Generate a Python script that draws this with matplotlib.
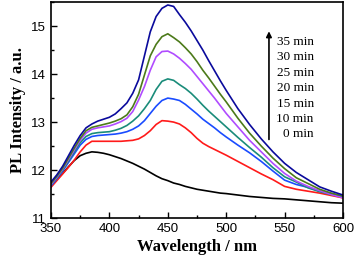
import matplotlib.pyplot as plt

# wavelengths (nm): 5 nm steps up to 500, then 10 nm steps
wl = list(range(350, 501, 5)) + list(range(510, 601, 10))

pl_0 = [11.68, 11.80, 11.93, 12.07, 12.20, 12.30, 12.35, 12.38, 12.37, 12.35, 12.32,
        12.28, 12.24, 12.19, 12.14, 12.08, 12.02, 11.95, 11.88, 11.82, 11.78,
        11.73, 11.70, 11.66, 11.63, 11.60, 11.58, 11.56, 11.54, 11.52, 11.51,
        11.48, 11.45, 11.43, 11.41, 11.40, 11.38, 11.36, 11.34, 11.32, 11.31]
pl_10 = [11.64, 11.78, 11.92, 12.06, 12.21, 12.38, 12.52, 12.60, 12.60, 12.60, 12.60,
         12.60, 12.60, 12.61, 12.62, 12.65, 12.72, 12.82, 12.95, 13.03, 13.02,
         13.00, 12.96, 12.88, 12.78, 12.66, 12.56, 12.49, 12.43, 12.37, 12.31,
         12.18, 12.05, 11.92, 11.80, 11.66, 11.60, 11.56, 11.52, 11.47, 11.42]
pl_15 = [11.67, 11.82, 11.98, 12.16, 12.34, 12.52, 12.64, 12.70, 12.72, 12.73, 12.74,
         12.75, 12.77, 12.80, 12.85, 12.92, 13.03, 13.18, 13.33, 13.45, 13.50,
         13.48, 13.45, 13.37, 13.27, 13.17, 13.06, 12.97, 12.88, 12.78, 12.69,
         12.52, 12.36, 12.18, 11.98, 11.79, 11.70, 11.64, 11.56, 11.50, 11.45]
pl_20 = [11.69, 11.84, 12.00, 12.19, 12.38, 12.57, 12.70, 12.76, 12.78, 12.79, 12.80,
         12.83, 12.87, 12.93, 13.02, 13.13, 13.28, 13.45, 13.68, 13.85, 13.90,
         13.87, 13.78, 13.70, 13.60, 13.48, 13.35, 13.23, 13.12, 13.01, 12.90,
         12.68, 12.47, 12.27, 12.05, 11.86, 11.75, 11.63, 11.55, 11.49, 11.44]
pl_25 = [11.70, 11.85, 12.02, 12.22, 12.42, 12.62, 12.77, 12.85, 12.88, 12.90, 12.92,
         12.96, 13.01, 13.08, 13.22, 13.46, 13.74, 14.08, 14.36, 14.47, 14.48,
         14.42, 14.33, 14.22, 14.10, 13.95, 13.80, 13.65, 13.50, 13.34, 13.18,
         12.90, 12.62, 12.38, 12.14, 11.93, 11.77, 11.66, 11.57, 11.49, 11.42]
pl_30 = [11.72, 11.87, 12.04, 12.25, 12.46, 12.66, 12.82, 12.89, 12.92, 12.95, 12.98,
         13.02, 13.07, 13.15, 13.32, 13.58, 13.98, 14.38, 14.62, 14.78, 14.84,
         14.76, 14.67, 14.55, 14.42, 14.26, 14.08, 13.92, 13.75, 13.58, 13.42,
         13.08, 12.77, 12.50, 12.25, 12.03, 11.84, 11.72, 11.60, 11.52, 11.46]
pl_35 = [11.75, 11.90, 12.08, 12.30, 12.52, 12.72, 12.88, 12.96, 13.02, 13.06, 13.10,
         13.17, 13.28, 13.40, 13.60, 13.88, 14.38, 14.88, 15.20, 15.37, 15.44,
         15.41, 15.24, 15.08, 14.90, 14.70, 14.50, 14.28, 14.07, 13.86, 13.66,
         13.28, 12.95, 12.65, 12.38, 12.14, 11.95, 11.80, 11.65, 11.56, 11.48]

series = [pl_0, pl_10, pl_15, pl_20, pl_25, pl_30, pl_35]
colors = ["#000000", "#ff1a1a", "#1a4cff", "#1a8c7a", "#b04cff", "#4c7a1a", "#0a0a9c"]
labels = ["35 min", "30 min", "25 min", "20 min", "15 min", "10 min", "0 min"]
label_y = [14.67, 14.35, 14.02, 13.71, 13.375, 13.06, 12.75]

fig = plt.figure(figsize=(3.54, 2.64), dpi=100)
ax = fig.add_axes([0.144, 0.174, 0.825, 0.818])

for ys, c in zip(series, colors):
    ax.plot(wl, ys, color=c, lw=1.2)

ax.set_xlim(350, 600)
ax.set_ylim(11, 15.5)
ax.set_xticks([350, 400, 450, 500, 550, 600])
ax.set_xticks(range(375, 600, 50), minor=True)
ax.set_yticks([11, 12, 13, 14, 15])
ax.set_yticks([11.5, 12.5, 13.5, 14.5, 15.5], minor=True)
ax.tick_params(which="both", direction="in", width=1)
ax.tick_params(which="major", length=4, labelsize=9.5)
ax.tick_params(which="minor", length=2)
for lab in ax.get_xticklabels() + ax.get_yticklabels():
    lab.set_family("Liberation Sans")
for sp in ax.spines.values():
    sp.set_linewidth(1.2)

ax.set_xlabel("Wavelength / nm", family="Liberation Serif", fontweight="bold", fontsize=12, labelpad=3)
ax.set_ylabel("PL Intensity / a.u.", family="Liberation Serif", fontweight="bold", fontsize=12, labelpad=4)

ax.annotate("", xy=(536.6, 14.95), xytext=(536.6, 12.58),
            arrowprops=dict(arrowstyle="-|>", color="black", lw=1.2, mutation_scale=8))
for t, y in zip(labels, label_y):
    ax.text(575, y, t, ha="right", va="center", family="Liberation Serif", fontsize=9.5)

fig.savefig("out.png", dpi=100)
